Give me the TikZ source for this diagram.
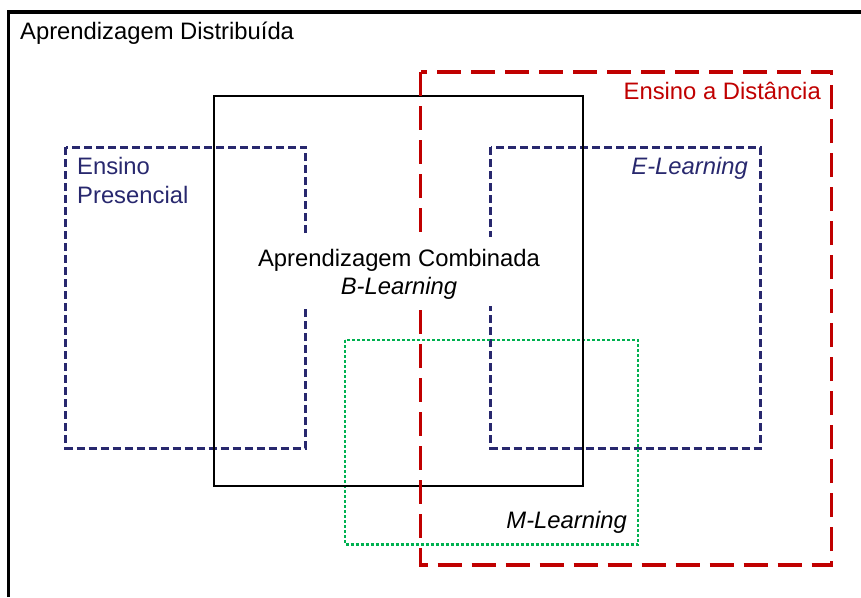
\documentclass[tikz,border=0pt]{standalone}
\usepackage{fontspec}
\setmainfont{Liberation Sans}
\definecolor{navy}{RGB}{40,40,110}
\definecolor{dred}{RGB}{192,0,0}
\definecolor{mgreen}{RGB}{0,176,80}
\tikzset{
  lbl/.style={inner sep=0pt, font=\fontsize{23.8}{28}\selectfont},
  bluebox/.style={draw=navy, line width=3pt, dash pattern=on 8pt off 4pt},
  redbox/.style={draw=dred, line width=3.3pt, dash pattern=on 24pt off 10pt},
  greenbox/.style={draw=mgreen, line width=2.6pt, dash pattern=on 3pt off 2pt},
  blackbox/.style={draw=black, line width=2.2pt},
}
\begin{document}
\begin{tikzpicture}[x=1pt,y=-1pt]
\useasboundingbox (0,0) rectangle (861,597);
% outer frame (cut by picture edges)
\draw[line width=3.5pt] (8.5,597) -- (8.5,11.8) -- (861,11.8);
\node[lbl, anchor=base west] (ad) at (20,39) {Aprendizagem Distribuída};
% boxes
\draw[bluebox] (65.5,147) rectangle (305.5,448);
\draw[bluebox] (490.5,147) rectangle (760,448);
\draw[greenbox] (345,340) rectangle (638,544.5);
\draw[blackbox] (214,96) rectangle (583,486);
\draw[redbox] (420.5,72) rectangle (831.5,565);
% white label background
\node[fill=white, minimum width=290pt, minimum height=69pt, inner sep=0pt] (bg) at (398,271.5) {};
% labels
\node[lbl, text=dred, anchor=base east] (ead) at (821,99) {Ensino a Distância};
\node[lbl, text=navy, anchor=base east] (el) at (748,174) {\itshape E-Learning};
\node[lbl, text=navy, anchor=base west] (ep1) at (77,174) {Ensino};
\node[lbl, text=navy, anchor=base west] (ep2) at (77,203) {Presencial};
\node[lbl, anchor=base] (ac) at (399,266) {Aprendizagem Combinada};
\node[lbl, anchor=base] (bl) at (399,294) {\itshape B-Learning};
\node[lbl, anchor=base east] (ml) at (627,528) {\itshape M-Learning};
\end{tikzpicture}
\end{document}
